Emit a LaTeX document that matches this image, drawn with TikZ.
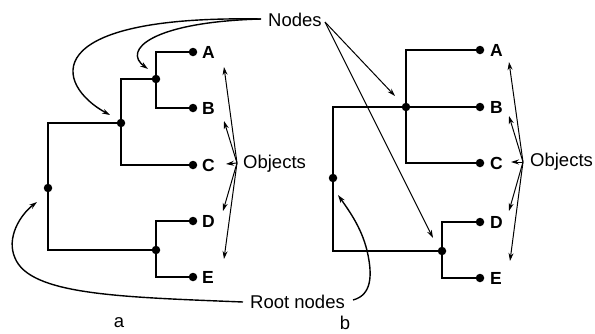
\documentclass[tikz,border=0pt]{standalone}
\usepackage{fontspec}
\setmainfont{Liberation Sans}
\usetikzlibrary{arrows.meta}
\begin{document}
\begin{tikzpicture}[x=1pt,y=-1pt,
  dot/.style={circle,fill,inner sep=0pt,minimum size=8.5pt},
  tree/.style={line width=2pt},
  leaf/.style={font=\fontsize{17.5}{19}\selectfont\bfseries,anchor=west,inner sep=0pt},
  lbl/.style={font=\fontsize{18.5}{20}\selectfont,inner sep=0pt},
  ptr/.style={line width=1pt,-{Stealth[length=8pt,width=5pt]}},
  crv/.style={line width=1.4pt,-{Stealth[length=8pt,width=5pt]}}]
\useasboundingbox (0,0) rectangle (595,333);

% ---------- tree a ----------
\node[dot] (a1) at (193,52) {};
\node[dot] (a2) at (193,108) {};
\node[dot] (a3) at (193,165) {};
\node[dot] (a4) at (193,221) {};
\node[dot] (a5) at (193,277) {};
\node[dot] (aAB) at (156,79) {};
\node[dot] (aABC) at (121,123) {};
\node[dot] (aDE) at (156,250) {};
\node[dot] (aR) at (48,188) {};
\draw[tree] (a1) -| (aAB) |- (a2);
\draw[tree] (aAB) -| (aABC) |- (a3);
\draw[tree] (aABC) -| (aR) |- (aDE);
\draw[tree] (a4) -| (aDE) |- (a5);
\node[leaf] (la1) at (202,52) {A};
\node[leaf] (la2) at (202,108) {B};
\node[leaf] (la3) at (202,165) {C};
\node[leaf] (la4) at (202,221) {D};
\node[leaf] (la5) at (202,277) {E};

% ---------- tree b ----------
\node[dot] (b1) at (480,50) {};
\node[dot] (b2) at (480,107) {};
\node[dot] (b3) at (480,163) {};
\node[dot] (b4) at (480,222) {};
\node[dot] (b5) at (480,278) {};
\node[dot] (bABC) at (406,107) {};
\node[dot] (bDE) at (442,251) {};
\node[dot] (bR) at (333,178) {};
\draw[tree] (b1) -| (bABC) |- (b3);
\draw[tree] (b2) -- (bABC);
\draw[tree] (bABC) -| (bR) |- (bDE);
\draw[tree] (b4) -| (bDE) |- (b5);
\node[leaf] (lb1) at (490,50) {A};
\node[leaf] (lb2) at (490,107) {B};
\node[leaf] (lb3) at (490,163) {C};
\node[leaf] (lb4) at (490,222) {D};
\node[leaf] (lb5) at (490,278) {E};

% ---------- labels ----------
\node[lbl,anchor=west] (nodes) at (268,20) {Nodes};
\node[lbl,anchor=west] (objA) at (243,164) {Objects};
\node[lbl,anchor=west] (objB) at (530,162) {Objects};
\node[lbl,anchor=west] (root) at (250,302) {Root nodes};
\node[lbl] (capA) at (119,323) {a};
\node[lbl] (capB) at (345,323) {b};

% ---------- Nodes pointers ----------
\coordinate (nS) at (261,19);
\coordinate (nE) at (325,22);
\coordinate (tAB) at (148,69);
\coordinate (tABC) at (110,115);
\coordinate (tbABC) at (395,96);
\coordinate (tbDE) at (433,238);
\draw[crv] (nS) .. controls (35,15) and (55,85) .. (tABC);
\draw[crv] (nS) .. controls (152,22) and (122,50) .. (tAB);
\draw[ptr] (nE) -- (tbABC);
\draw[ptr] (nE) -- (tbDE);

% ---------- Root nodes pointers ----------
\coordinate (rS) at (243,302);
\coordinate (rM) at (15,258);
\coordinate (tRa) at (37,202);
\coordinate (rSb) at (353,300);
\coordinate (rMb) at (368,255);
\coordinate (tRb) at (338,195);
\draw[crv] (rS) .. controls (120,297) and (30,295) .. (rM) .. controls (6,238) and (20,215) .. (tRa);
\draw[crv] (rSb) .. controls (372,295) and (372,275) .. (rMb) .. controls (363,230) and (350,212) .. (tRb);

% ---------- Objects pointers ----------
\coordinate (oA) at (237,163);
\coordinate (oB) at (523,162);
\coordinate (ta1) at (224,67);
\coordinate (ta2) at (224,121);
\coordinate (ta3) at (226,164);
\coordinate (ta4) at (223,211);
\coordinate (ta5) at (224,259);
\coordinate (tb1) at (509,62);
\coordinate (tb2) at (509,116);
\coordinate (tb3) at (511,162);
\coordinate (tb4) at (509,211);
\coordinate (tb5) at (510,261);
\foreach \i in {1,...,5}{
  \draw[ptr] (oA) -- (ta\i);
  \draw[ptr] (oB) -- (tb\i);
}
\end{tikzpicture}
\end{document}
